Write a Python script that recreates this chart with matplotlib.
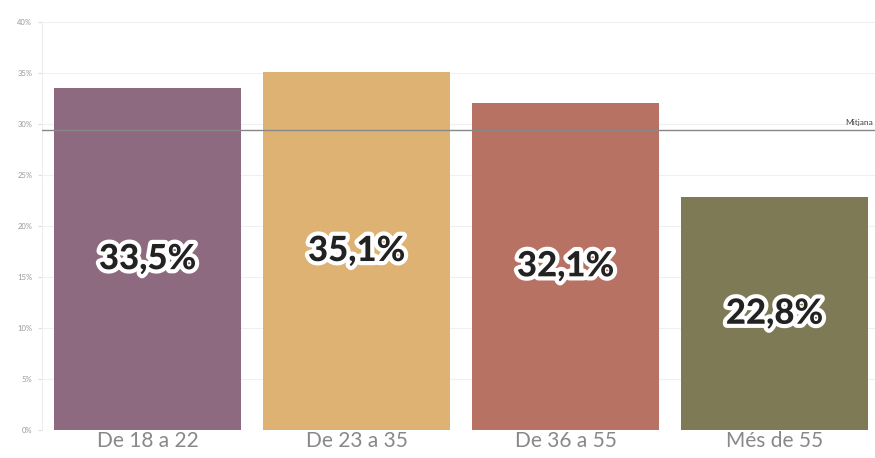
import matplotlib
matplotlib.use("Agg")
import matplotlib.pyplot as plt
import matplotlib.patheffects as pe

categories = ["De 18 a 22", "De 23 a 35", "De 36 a 55", "Més de 55"]
values = [33.5, 35.1, 32.1, 22.8]
labels = ["33,5%", "35,1%", "32,1%", "22,8%"]
colors = ["#8E6A80", "#DDB273", "#B87264", "#7D7A55"]
mean_value = 29.4
mean_label = "Mitjana"
yticks = [0, 5, 10, 15, 20, 25, 30, 35, 40]
ytick_labels = ["0%", "5%", "10%", "15%", "20%", "25%", "30%", "35%", "40%"]

plt.rcParams['font.family'] = ['Lato', 'DejaVu Sans']

fig = plt.figure(figsize=(8.75, 4.58), dpi=100)
ax = fig.add_axes([0.048, 0.061, 0.952, 0.891])

x = list(range(len(categories)))
ax.bar(x, values, width=0.895, color=colors, zorder=2)

ax.set_xlim(-0.505, 3.48)
ax.set_ylim(0, 40)

ax.set_yticks(yticks)
ax.set_yticklabels(ytick_labels, fontsize=5.5, color="#999999")
ax.set_xticks(x)
ax.set_xticklabels(categories, fontsize=15, color="#888888")
ax.tick_params(axis='x', length=0, pad=1)
ax.tick_params(axis='y', length=3, color="#dddddd", pad=4)

ax.grid(axis='y', color="#f0f0f0", lw=0.8, zorder=0)
for s in ["top", "right", "bottom"]:
    ax.spines[s].set_visible(False)
ax.spines["left"].set_color("#eeeeee")

ax.axhline(mean_value, color="#888888", lw=1.0, zorder=3)
ax.text(3.47, mean_value + 0.4, mean_label, ha='right', va='bottom',
        fontsize=6, color="#444444")

for xi, v, lab in zip(x, values, labels):
    ax.text(xi, v / 2, lab, ha='center', va='center', fontsize=25,
            fontweight='black', color="#222222", zorder=4,
            path_effects=[pe.withStroke(linewidth=6, foreground="white")])

fig.savefig("out.png", dpi=100)
